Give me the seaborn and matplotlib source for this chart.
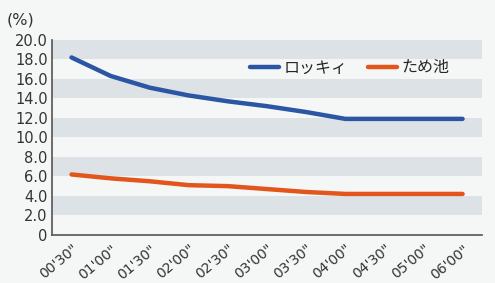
import matplotlib
matplotlib.use("Agg")
import matplotlib.pyplot as plt
import seaborn as sns
import pandas as pd

# Values
times = ["00'30\"", "01'00\"", "01'30\"", "02'00\"", "02'30\"", "03'00\"",
         "03'30\"", "04'00\"", "04'30\"", "05'00\"", "06'00\""]
rocky = [18.2, 16.3, 15.1, 14.3, 13.7, 13.2, 12.6, 11.9, 11.9, 11.9, 11.9]
pond = [6.2, 5.8, 5.5, 5.1, 5.0, 4.7, 4.4, 4.2, 4.2, 4.2, 4.2]
series_names = ["ロッキィ", "ため池"]
yticks = [0, 2, 4, 6, 8, 10, 12, 14, 16, 18, 20]

df = pd.DataFrame({
    "time": times * 2,
    "value": rocky + pond,
    "series": [series_names[0]] * len(times) + [series_names[1]] * len(times),
})

sns.set_style("white")
plt.rcParams['font.family'] = ['Noto Sans CJK JP', 'DejaVu Sans']

fig = plt.figure(figsize=(4.95, 2.83), dpi=100, facecolor="#f5f6f6")
ax = fig.add_axes([0.105, 0.170, 0.869, 0.689])
ax.set_facecolor("#f5f6f6")

# alternating grey bands
for lo in [2, 6, 10, 14, 18]:
    ax.axhspan(lo, lo + 2, color="#dce2e5", zorder=0, lw=0)

sns.lineplot(data=df, x="time", y="value", hue="series",
             palette=["#2a56a3", "#e2561d"], linewidth=3.2, ax=ax,
             solid_capstyle="round", zorder=3)

ax.set_xlim(-0.5, len(times) - 0.5)
ax.set_ylim(0, 20)
ax.set_yticks(yticks)
ax.set_yticklabels(["0"] + [f"{v:.1f}" for v in yticks[1:]], fontsize=10.5,
                   family="DejaVu Sans", color="#333333")
ax.set_xticks(range(len(times)))
ax.set_xticklabels(times, rotation=40, ha="right", rotation_mode="anchor",
                   fontsize=10, family="DejaVu Sans", color="#333333")
ax.set_xticks([i - 0.5 for i in range(len(times) + 1)], minor=True)
ax.tick_params(axis="x", which="major", length=0, pad=5)
ax.tick_params(axis="x", which="minor", length=4, color="#555555", width=1)
ax.tick_params(axis="y", length=0, pad=3)
ax.set_xlabel("")
ax.set_ylabel("")

for s in ["top", "right"]:
    ax.spines[s].set_visible(False)
for s in ["left", "bottom"]:
    ax.spines[s].set_color("#555555")
    ax.spines[s].set_linewidth(1.2)

ax.legend(loc="center right", bbox_to_anchor=(0.958, 0.856), ncol=2, frameon=False,
          fontsize=11.5, handlelength=1.8, columnspacing=1.3, handletextpad=0.3,
          title=None)

fig.text(0.014, 0.93, "(%)", fontsize=11.5, family="DejaVu Sans", color="#333333",
         va="center")

fig.savefig("out.png", dpi=100, facecolor=fig.get_facecolor())
